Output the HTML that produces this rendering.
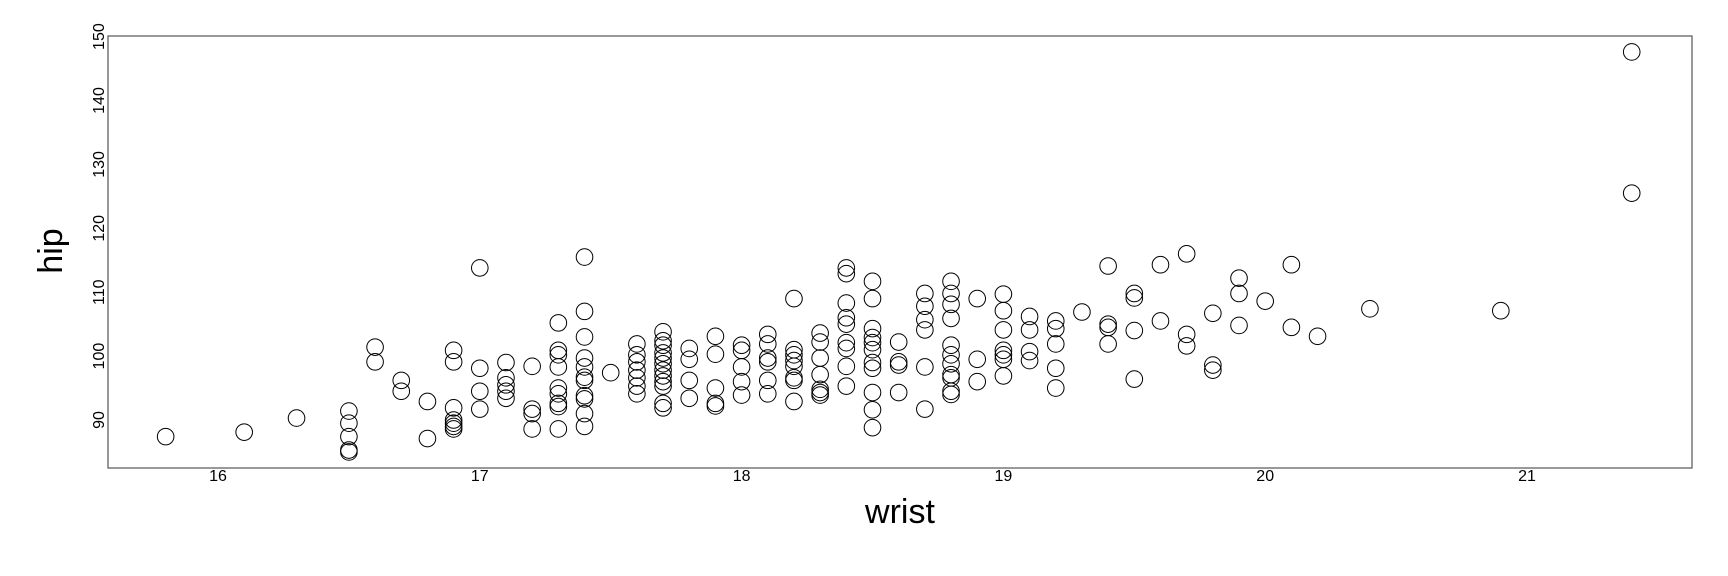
<!DOCTYPE html>
<html><head><meta charset="utf-8"><style>
html,body{margin:0;padding:0;background:#fff;}
svg{display:block;font-family:"Liberation Sans",sans-serif;}
</style></head><body>
<svg id="chart" width="1728" height="576" viewBox="0 0 1728 576">
<rect x="108" y="36" width="1584" height="432" fill="none" stroke="#555" stroke-width="1.2"/>
<g id="xticks"></g>
<g id="yticks"></g>
<g id="points"></g>
<text x="900" y="523" font-size="34" text-anchor="middle">wrist</text>
<text transform="translate(62,251) rotate(-90)" font-size="34" text-anchor="middle">hip</text>
</svg>
<script>
const xTicks=[16,17,18,19,20,21];
const yTicks=[90,100,110,120,130,140,150];
const wrist=[15.8,16.1,16.3,16.5,16.5,16.5,16.5,16.5,16.6,16.6,16.7,16.7,16.8,16.8,16.9,16.9,16.9,16.9,16.9,16.9,16.9,17.0,17.0,17.0,17.0,17.1,17.1,17.1,17.1,17.1,17.2,17.2,17.2,17.2,17.3,17.3,17.3,17.3,17.3,17.3,17.3,17.3,17.3,17.4,17.4,17.4,17.4,17.4,17.4,17.4,17.4,17.4,17.4,17.4,17.5,17.6,17.6,17.6,17.6,17.6,17.6,17.6,17.7,17.7,17.7,17.7,17.7,17.7,17.7,17.7,17.7,17.7,17.7,17.7,17.8,17.8,17.8,17.8,17.9,17.9,17.9,17.9,17.9,18.0,18.0,18.0,18.0,18.0,18.1,18.1,18.1,18.1,18.1,18.1,18.2,18.2,18.2,18.2,18.2,18.2,18.2,18.2,18.3,18.3,18.3,18.3,18.3,18.3,18.3,18.4,18.4,18.4,18.4,18.4,18.4,18.4,18.4,18.4,18.5,18.5,18.5,18.5,18.5,18.5,18.5,18.5,18.5,18.5,18.5,18.6,18.6,18.6,18.6,18.7,18.7,18.7,18.7,18.7,18.7,18.8,18.8,18.8,18.8,18.8,18.8,18.8,18.8,18.8,18.8,18.8,18.9,18.9,18.9,19.0,19.0,19.0,19.0,19.0,19.0,19.0,19.1,19.1,19.1,19.1,19.2,19.2,19.2,19.2,19.2,19.3,19.4,19.4,19.4,19.4,19.5,19.5,19.5,19.5,19.6,19.6,19.7,19.7,19.7,19.8,19.8,19.8,19.9,19.9,19.9,20.0,20.1,20.1,20.2,20.4,20.9,21.4,21.4];
const hip=[87.4,88.1,90.3,91.4,89.5,87.4,85.3,85.0,101.4,99.1,96.2,94.5,92.9,87.1,100.9,99.1,91.9,90.0,89.5,89.0,88.6,113.8,98.1,94.5,91.7,99.0,96.6,95.5,94.5,93.4,98.4,91.7,91.0,88.6,105.2,100.9,100.2,98.3,95.0,94.1,92.6,92.1,88.6,115.5,107.0,103.0,99.7,98.3,96.7,96.2,93.8,93.3,91.0,89.0,97.4,101.9,100.2,99.1,97.8,96.6,95.3,94.1,103.8,102.4,101.7,100.5,99.7,98.8,97.8,96.9,96.0,95.3,92.6,91.9,101.2,99.5,96.2,93.4,103.1,100.3,95.0,92.6,92.2,101.7,100.9,98.3,96.0,93.9,103.4,101.9,99.7,99.1,96.2,94.1,109.0,101.0,100.2,99.3,98.4,96.2,92.9,96.6,103.6,102.2,99.7,97.1,94.8,94.3,93.9,113.8,112.9,108.3,106.0,105.0,102.1,101.2,98.4,95.3,111.7,109.0,104.3,102.9,102.1,101.0,99.0,98.1,94.3,91.6,88.8,102.2,99.1,98.6,94.3,109.8,107.8,105.7,104.1,98.3,91.7,111.7,109.8,108.1,105.9,101.7,100.2,98.8,97.1,96.6,94.5,94.0,109.0,99.5,96.0,109.7,107.1,104.1,100.9,100.2,99.5,96.9,106.2,104.1,100.7,99.3,105.5,104.3,101.9,98.1,95.0,106.9,114.1,105.0,104.5,101.9,109.8,109.1,104.0,96.4,114.3,105.5,116.0,103.4,101.6,106.7,98.6,97.8,112.2,109.8,104.8,108.6,114.3,104.5,103.1,107.4,107.1,147.6,125.5];
const NS="http://www.w3.org/2000/svg";
function sx(v){return 218+(v-16)*261.8;}
function sy(v){return 420-(v-90)*6.39;}
const xg=document.getElementById('xticks');
xTicks.forEach(t=>{
  const tx=document.createElementNS(NS,'text');
  tx.setAttribute('x',sx(t));tx.setAttribute('y',481);
  tx.setAttribute('font-size','16');tx.setAttribute('text-anchor','middle');
  tx.textContent=t;
  
  
  xg.appendChild(tx);
});
const yg=document.getElementById('yticks');
yTicks.forEach(t=>{
  const tx=document.createElementNS(NS,'text');
  tx.setAttribute('transform','translate(104,'+sy(t)+') rotate(-90)');
  tx.setAttribute('font-size','16');tx.setAttribute('text-anchor','middle');
  tx.textContent=t;
  
  
  yg.appendChild(tx);
});
const pg=document.getElementById('points');
wrist.forEach((w,i)=>{
  const c=document.createElementNS(NS,'circle');
  c.setAttribute('cx',sx(w));c.setAttribute('cy',sy(hip[i]));
  c.setAttribute('r',8.3);c.setAttribute('fill','none');
  c.setAttribute('stroke','#000');c.setAttribute('stroke-width','1');
  
  
  pg.appendChild(c);
});
</script>
</body></html>
